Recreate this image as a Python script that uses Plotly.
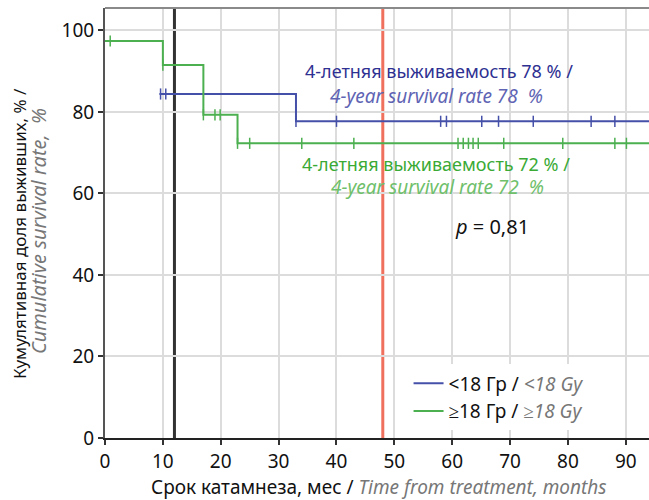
import plotly.graph_objects as go

# Kaplan-Meier step data (months, survival %)
blue_x = [9.4, 33.0, 33.0, 94]
blue_y = [84.4, 84.4, 77.7, 77.7]
blue_cens_x = [9.6, 10.5, 33.0, 40.0, 58.0, 59.0, 65.1, 68.0, 74.0, 84.0, 88.1]
blue_cens_y = [84.4, 84.4, 77.7, 77.7, 77.7, 77.7, 77.7, 77.7, 77.7, 77.7, 77.7]

green_x = [0, 10.0, 10.0, 17.0, 17.0, 22.9, 22.9, 94]
green_y = [97.4, 97.4, 91.5, 91.5, 79.3, 79.3, 72.3, 72.3]
green_cens_x = [0.9, 10.0, 17.0, 19.0, 19.9, 22.9, 25.0, 34.0, 43.0, 61.0, 61.9, 62.8,
                63.6, 64.5, 68.9, 79.1, 88.1, 90.1]
green_cens_y = [97.4, 91.5, 79.3, 79.3, 79.3, 72.3, 72.3, 72.3, 72.3, 72.3, 72.3, 72.3,
                72.3, 72.3, 72.3, 72.3, 72.3, 72.3]

x_ticks = [0, 10, 20, 30, 40, 50, 60, 70, 80, 90]
y_ticks = [0, 20, 40, 60, 80, 100]
ref_lines = [12, 48]

BLUE = "#4550a8"
GREEN = "#4cb050"
FONT = "Noto Sans"
GRAY = "#777777"

fig = go.Figure()

fig.add_trace(go.Scatter(x=blue_x, y=blue_y, mode="lines",
                         line=dict(color=BLUE, width=2),
                         name="&lt;18 Гр / <i><span style='color:#777'>&lt;18 Gy</span></i>"))
fig.add_trace(go.Scatter(x=green_x, y=green_y, mode="lines",
                         line=dict(color=GREEN, width=2),
                         name="≥18 Гр / <i><span style='color:#777'>≥18 Gy</span></i>"))
fig.add_trace(go.Scatter(x=blue_cens_x, y=blue_cens_y, mode="markers", showlegend=False,
                         marker=dict(symbol="line-ns", size=8, line=dict(color=BLUE, width=1.5))))
fig.add_trace(go.Scatter(x=green_cens_x, y=green_cens_y, mode="markers", showlegend=False,
                         marker=dict(symbol="line-ns", size=8, line=dict(color=GREEN, width=1.5))))

# vertical reference lines
fig.add_vline(x=ref_lines[0], line=dict(color="#333333", width=3), layer="below")
fig.add_vline(x=ref_lines[1], line=dict(color="#f0705e", width=3), layer="below")
# top border
fig.add_shape(type="line", xref="paper", yref="paper", x0=0, x1=1, y0=1, y1=1,
              line=dict(color="#8a8a8a", width=2))

anns = [
    dict(x=34.2, y=90.1, text="4-летняя выживаемость 78 % /", xanchor="left",
         font=dict(color="#2e3192", size=18)),
    dict(x=76.0, y=83.9, text="<i>4-year survival rate 78  %</i>", xanchor="right",
         font=dict(color="#6064b4", size=19)),
    dict(x=33.7, y=67.2, text="4-летняя выживаемость 72 % /", xanchor="left",
         font=dict(color="#3aaa35", size=18)),
    dict(x=76.2, y=61.6, text="<i>4-year survival rate 72  %</i>", xanchor="right",
         font=dict(color="#6fc06b", size=19)),
    dict(x=66.8, y=52.0, text="<i>p</i> = 0,81", xanchor="center",
         font=dict(color="#111111", size=20)),
]
for a in anns:
    fig.add_annotation(xref="x", yref="y", showarrow=False, yanchor="middle", **a)

# axis titles as annotations (paper coords; plot spans x 105..649, y 8..438 px)
fig.add_annotation(xref="paper", yref="paper", x=(379 - 105) / 544, y=(438 - 487) / 430,
                   xanchor="center", yanchor="middle", showarrow=False,
                   text="Срок катамнеза, мес / <i><span style='color:#777'>Time from treatment, months</span></i>",
                   font=dict(size=19, color="#111111"))
fig.add_annotation(xref="paper", yref="paper", x=(19 - 105) / 544, y=(438 - 234) / 430,
                   xanchor="center", yanchor="middle", showarrow=False, textangle=-90,
                   text="Кумулятивная доля выживших, % /",
                   font=dict(size=17, color="#111111"))
fig.add_annotation(xref="paper", yref="paper", x=(39 - 105) / 544, y=(438 - 231) / 430,
                   xanchor="center", yanchor="middle", showarrow=False, textangle=-90,
                   text="<i>Cumulative survival rate,  %</i>",
                   font=dict(size=20, color=GRAY))

fig.update_layout(
    width=649, height=500,
    margin=dict(l=105, r=0, t=8, b=62),
    paper_bgcolor="white", plot_bgcolor="white",
    font=dict(family=FONT, size=19, color="#111111"),
    showlegend=True,
    legend=dict(x=0.558, y=0.171, xanchor="left", yanchor="top", bgcolor="white",
                font=dict(size=19), tracegroupgap=0, itemwidth=30),
    xaxis=dict(range=[0, 94], tickmode="array", tickvals=x_ticks, ticks="outside",
               ticklen=5, tickwidth=2, tickcolor="#333", showline=True, linecolor="#222",
               linewidth=2, showgrid=True, gridcolor="#dcdcdc", gridwidth=2, zeroline=False,
               tickfont=dict(size=19), automargin=False),
    yaxis=dict(range=[0, 105.5], tickmode="array", tickvals=y_ticks, ticks="outside",
               ticklen=5, tickwidth=2, tickcolor="#333", showline=True, linecolor="#555",
               linewidth=2, showgrid=True, gridcolor="#dcdcdc", gridwidth=2, zeroline=False,
               tickfont=dict(size=19), automargin=False),
)

fig.write_html("out.html", config={"displayModeBar": False},
               post_script="document.body.style.margin='0';document.body.style.overflow='hidden';")
